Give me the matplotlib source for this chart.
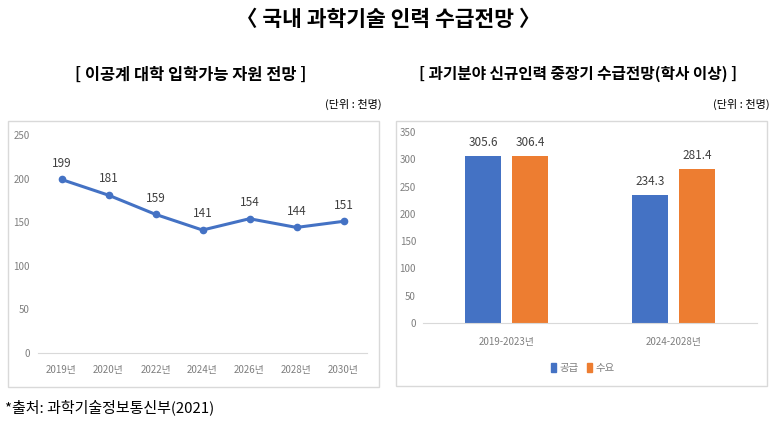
import matplotlib
matplotlib.use("Agg")
import matplotlib.pyplot as plt
from matplotlib.patches import Rectangle, Patch

plt.rcParams['font.family'] = ['Noto Sans CJK KR', 'DejaVu Sans']

# Data
years = ["2019년", "2020년", "2022년", "2024년", "2026년", "2028년", "2030년"]
resources = [199, 181, 159, 141, 154, 144, 151]

periods = ["2019-2023년", "2024-2028년"]
supply = [305.6, 234.3]
demand = [306.4, 281.4]
series_names = ["공급", "수요"]

BLUE = "#4472C4"
ORANGE = "#ED7D31"
TICK = "#7f7f7f"
LABEL = "#404040"

W, H = 783, 422
fig = plt.figure(figsize=(W / 100, H / 100), dpi=100)

def fx(px):
    return px / W

def fy(py):
    return 1 - py / H

# Panel boxes
for (x0, y0, x1, y1) in [(8, 121, 379, 387), (396, 121, 767, 386)]:
    fig.patches.append(Rectangle((fx(x0), fy(y1)), fx(x1) - fx(x0), fy(y0) - fy(y1),
                                 transform=fig.transFigure, fill=False,
                                 edgecolor="#d9d9d9", linewidth=1.0))

# Titles
fig.text(fx(388), fy(20), "〈 국내 과학기술 인력 수급전망 〉", ha="center", va="center",
         fontsize=15.5, fontweight="bold", color="black")
fig.text(fx(191), fy(75), "[ 이공계 대학 입학가능 자원 전망 ]", ha="center", va="center",
         fontsize=11.8, fontweight="bold", color="black")
fig.text(fx(578), fy(74), "[ 과기분야 신규인력 중장기 수급전망(학사 이상) ]", ha="center", va="center",
         fontsize=11.3, fontweight="bold", color="black")
fig.text(fx(382), fy(104), "(단위 : 천명)", ha="right", va="center", fontsize=8, color="black")
fig.text(fx(770), fy(104), "(단위 : 천명)", ha="right", va="center", fontsize=8, color="black")
fig.text(fx(5), fy(407), "*출처: 과학기술정보통신부(2021)", ha="left", va="center",
         fontsize=10.8, color="black")

# Left line chart
ax1 = fig.add_axes([fx(38), fy(353), fx(367) - fx(38), fy(135) - fy(353)])
x = list(range(len(years)))
ax1.plot(x, resources, color=BLUE, linewidth=2.2, marker="o", markersize=4.5)
for xi, v in zip(x, resources):
    ax1.annotate(str(v), (xi, v), xytext=(0, 7), textcoords="offset points",
                 ha="center", va="bottom", fontsize=8.5, color=LABEL)
ax1.set_xlim(-0.5, len(years) - 0.5)
ax1.set_ylim(0, 250)
ax1.set_yticks(range(0, 251, 50))
ax1.set_xticks(x)
ax1.set_xticklabels(years)
for s in ["top", "right", "left"]:
    ax1.spines[s].set_visible(False)
ax1.spines["bottom"].set_color("#d9d9d9")
ax1.tick_params(axis="both", length=0, labelsize=7, labelcolor=TICK)
ax1.tick_params(axis="y", pad=6)
ax1.tick_params(axis="x", pad=9)
ax1.patch.set_alpha(0)

# Right bar chart
ax2 = fig.add_axes([fx(423), fy(323), fx(757) - fx(423), fy(132) - fy(323)])
xc = list(range(len(periods)))
bw = 0.22
off = 0.14
b1 = ax2.bar([c - off for c in xc], supply, width=bw, color=BLUE, label=series_names[0])
b2 = ax2.bar([c + off for c in xc], demand, width=bw, color=ORANGE, label=series_names[1])
for bars in (b1, b2):
    for r in bars:
        ax2.annotate(f"{r.get_height():.1f}", (r.get_x() + r.get_width() / 2, r.get_height()),
                     xytext=(0, 5), textcoords="offset points", ha="center", va="bottom",
                     fontsize=8.5, color=LABEL)
ax2.set_xlim(-0.5, len(periods) - 0.5)
ax2.set_ylim(0, 350)
ax2.set_yticks(range(0, 351, 50))
ax2.set_xticks(xc)
ax2.set_xticklabels(periods)
for s in ["top", "right", "left"]:
    ax2.spines[s].set_visible(False)
ax2.spines["bottom"].set_color("#d9d9d9")
ax2.tick_params(axis="both", length=0, labelsize=7, labelcolor=TICK)
ax2.tick_params(axis="y", pad=5)
ax2.tick_params(axis="x", pad=10)
ax2.patch.set_alpha(0)
leg = ax2.legend(handles=[Patch(color=BLUE, label=series_names[0]),
                          Patch(color=ORANGE, label=series_names[1])],
                 loc="center", bbox_to_anchor=(fx(583), fy(368)), bbox_transform=fig.transFigure,
                 ncol=2, frameon=False, fontsize=7.5, handlelength=0.5, handleheight=0.9,
                 handletextpad=0.3, columnspacing=0.8)
for t in leg.get_texts():
    t.set_color(TICK)

fig.savefig("out.png", dpi=100)
